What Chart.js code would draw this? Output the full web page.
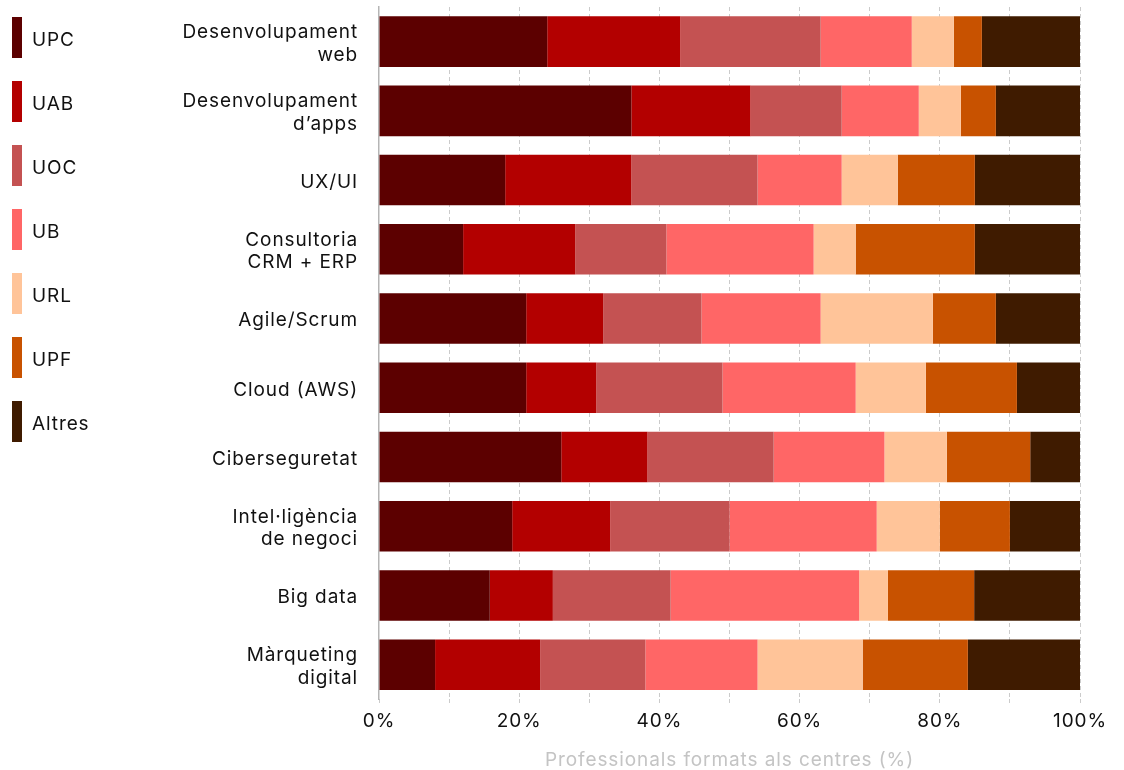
<!DOCTYPE html>
<html>
<head>
<meta charset="utf-8">
<script src="https://cdn.jsdelivr.net/npm/chart.js@4.4.1/dist/chart.umd.min.js"></script>
<style>
    body { margin: 0; background: #fff; font-family: Inter, sans-serif; }
    #wrap { position: relative; width: 1124px; height: 770px; }
    #legend { position: absolute; left: 12px; top: 17px; }
    .item { display: flex; align-items: center; height: 41px; margin-bottom: 23px; }
    .swatch { width: 10px; height: 41px; }
    .label { margin-left: 10px; position: relative; top: 2px; font-size: 19px; letter-spacing: 0.9px; color: #111; }
</style>
</head>
<body>
<div id="wrap">
    <canvas id="chart"></canvas>
    <div id="legend"></div>
</div>
<script>
const categories = [
    ['Desenvolupament', 'web'],
    ['Desenvolupament', 'd\u2019apps'],
    'UX/UI',
    ['Consultoria', 'CRM + ERP'],
    'Agile/Scrum',
    'Cloud (AWS)',
    'Ciberseguretat',
    ['Intel\u00b7lig\u00e8ncia', 'de negoci'],
    'Big data',
    ['M\u00e0rqueting', 'digital']
];

const seriesNames = ['UPC', 'UAB', 'UOC', 'UB', 'URL', 'UPF', 'Altres'];

const upc    = [24, 36, 18, 12, 21, 21, 26,   19, 15.8, 8];
const uab    = [19, 17, 18, 16, 11, 10, 12.3, 14, 9,    15];
const uoc    = [20, 13, 18, 13, 14, 18, 18,   17, 16.8, 15];
const ub     = [13, 11, 12, 21, 17, 19, 15.8, 21, 26.9, 16];
const url    = [6,  6,  8,  6,  16, 10, 8.9,  9,  4.1,  15];
const upf    = [4,  5,  11, 17, 9,  13, 11.9, 10, 12.3, 15];
const altres = [14, 12, 15, 15, 12, 9,  7.1,  10, 15.1, 16];

const xTicks = [0, 20, 40, 60, 80, 100];

const colors = ['#5c0000', '#b30000', '#c45252', '#ff6666', '#ffc499', '#c85200', '#3f1b00'];

const values = [upc, uab, uoc, ub, url, upf, altres];

const datasets = seriesNames.map((name, i) => ({
    label: name,
    data: values[i],
    backgroundColor: colors[i],
    borderWidth: 0,
    categoryPercentage: 0.73,
    barPercentage: 1
}));

// html legend, same order as the series
const legendEl = document.getElementById('legend');
seriesNames.forEach((name, i) => {
    const item = document.createElement('div');
    item.className = 'item';
    item.innerHTML = '<div class="swatch" style="background:' + colors[i] + '"></div><span class="label">' + name + '</span>';
    legendEl.appendChild(item);
});

// the original font is wider than Inter, open it up a little
const spacing = {
    id: 'spacing',
    beforeLayout(chart) { chart.ctx.letterSpacing = '0.9px'; },
    beforeDraw(chart) { chart.ctx.letterSpacing = '0.9px'; }
};

Chart.defaults.font.family = 'Inter, sans-serif';
Chart.defaults.font.size = 19;
Chart.defaults.color = '#111';

new Chart(document.getElementById('chart'), {
    type: 'bar',
    data: { labels: categories, datasets: datasets },
    plugins: [spacing],
    options: {
        indexAxis: 'y',
        responsive: true,
        maintainAspectRatio: false,
        animation: false,
        layout: { padding: { left: 159, right: 44, top: 7, bottom: 0 } },
        plugins: {
            legend: { display: false },
            tooltip: { enabled: false }
        },
        scales: {
            x: {
                stacked: true,
                min: 0,
                max: 100,
                z: 1,
                grid: {
                    color: (c) => c.tick && c.tick.value === 0 ? 'rgba(0,0,0,0)' : 'rgba(185,185,185,0.75)',
                    tickColor: 'rgba(185,185,185,0.75)',
                    tickLength: 5,
                    tickBorderDash: [4, 3]
                },
                border: { display: false, dash: [4, 3] },
                ticks: {
                    stepSize: 10,
                    autoSkip: false,
                    maxRotation: 0,
                    padding: 5,
                    color: '#111',
                    callback: (v) => xTicks.includes(v) ? v + '%' : ''
                },
                title: {
                    display: true,
                    text: 'Professionals formats als centres (%)',
                    color: '#c4c4c4',
                    font: { size: 19 },
                    padding: { top: 12, bottom: -2 }
                }
            },
            y: {
                stacked: true,
                grid: { display: false, drawTicks: false },
                border: { display: true, color: '#b5b5b5', width: 1.5 },
                ticks: { padding: 21, labelOffset: 2, color: '#111' },
                afterFit: (scale) => {
                    scale.width = 220;
                    scale.paddingTop = 0;
                    scale.paddingBottom = 0;
                }
            }
        }
    }
});
</script>
</body>
</html>
